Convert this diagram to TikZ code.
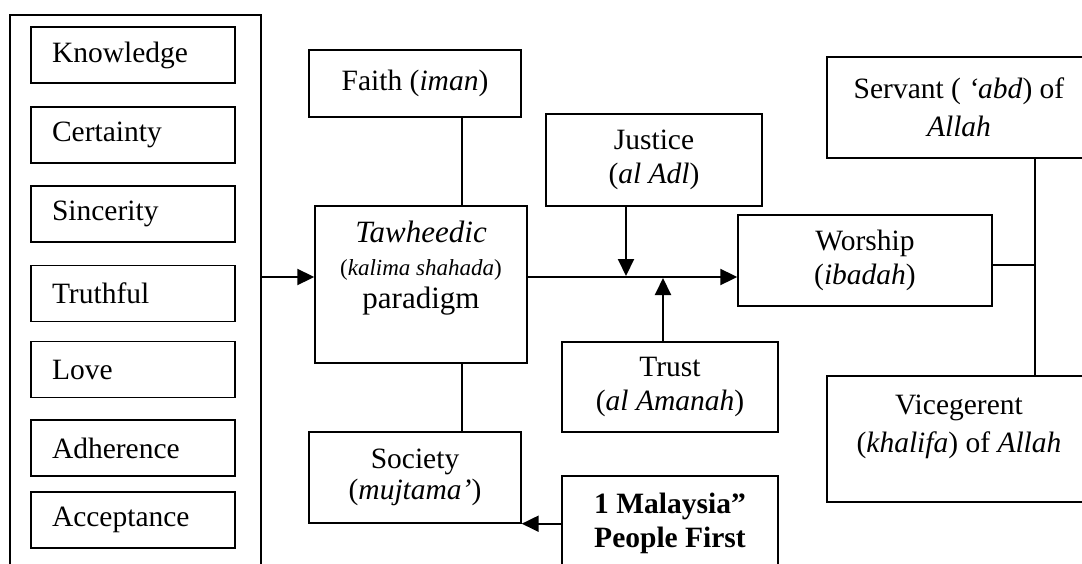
\documentclass[tikz,border=0pt]{standalone}
\usepackage{fontspec}
\setmainfont{Liberation Serif}
\usetikzlibrary{arrows.meta}
\tikzset{
  box/.style={draw, line width=1.4pt, inner sep=0pt, align=center,
    font=\fontsize{29.5}{34}\selectfont},
  itembox/.style={draw, line width=1.4pt, minimum width=204pt, minimum height=56pt,
    text width=162pt, inner xsep=21pt, inner ysep=0pt, align=left,
    font=\fontsize{29.5}{34}\selectfont},
  plain/.style={line width=1.4pt},
  arr/.style={line width=2pt, -{Triangle[length=17pt,width=16pt]}}
}
\begin{document}
\begin{tikzpicture}[x=1pt,y=-1pt]
\useasboundingbox (0,0) rectangle (1082,563);
\clip (0,0) rectangle (1082,563);
\fill[white] (0,0) rectangle (1082,563);

% left column
\node[draw, line width=1.4pt, minimum width=251pt, minimum height=600pt, inner sep=0pt] (outer) at (135.5,315) {};
\node[itembox] (know) at (133,55) {Knowledge};
\node[itembox] (cert) at (133,135) {Certainty};
\node[itembox] (sinc) at (133,214) {Sincerity};
\node[itembox] (truth) at (133,293.5) {Truthful};
\node[itembox] (love) at (133,369.5) {Love};
\node[itembox] (adh) at (133,448) {Adherence};
\node[itembox] (acc) at (133,520) {Acceptance};

% middle column
\node[box, minimum width=212pt, minimum height=67pt] (faith) at (415,83.5) {Faith (\textit{iman})};
\node[box, minimum width=212pt, minimum height=157pt] (tawh) at (421,284.5)
  {\begin{minipage}[c][157pt][t]{212pt}\centering\vspace*{15pt}%
   \fontsize{31}{33}\selectfont\textit{Tawheedic}\\
   {\fontsize{23}{33}\selectfont(\textit{kalima shahada})}\\
   paradigm\end{minipage}};
\node[box, minimum width=212pt, minimum height=91pt, font=\fontsize{29.5}{31}\selectfont] (soc) at (415,477.5) {Society\\(\textit{mujtama’})};

\node[box, minimum width=216pt, minimum height=92pt] (just) at (654,160) {Justice\\(\textit{al Adl})};
\node[box, minimum width=216pt, minimum height=90pt] (trust) at (670,387) {Trust\\(\textit{al Amanah})};
\node[box, minimum width=216pt, minimum height=128pt] (mal) at (670,540)
  {\begin{minipage}[c][128pt][t]{216pt}\centering\vspace*{17pt}%
   \bfseries 1 Malaysia”\\People First\end{minipage}};

% right column
\node[box, minimum width=254pt, minimum height=91pt] (wor) at (865,260.5) {Worship\\(\textit{ibadah})};
\node[box, minimum width=264pt, minimum height=101pt, font=\fontsize{29.5}{38}\selectfont] (serv) at (959,107.5) {Servant ( \textit{‘abd}) of\\\textit{Allah}};
\node[box, minimum width=264pt, minimum height=126pt] (vice) at (959,439)
  {\begin{minipage}[c][126pt][t]{264pt}\centering\vspace*{19pt}%
   \fontsize{29.5}{38}\selectfont Vicegerent\\(\textit{khalifa}) of \textit{Allah}\end{minipage}};

% helper coordinates
\coordinate (mid) at (0,277);
\coordinate (fx) at (462,0);
\coordinate (jx) at (626,0);
\coordinate (tx) at (663,0);
\coordinate (sx) at (1035,0);
\coordinate (wy) at (0,265);

% connectors
\draw[plain] (fx |- faith.south) -- (fx |- tawh.north);
\draw[plain] (fx |- tawh.south) -- (fx |- soc.north);
\draw[arr] (outer.east |- mid) -- (tawh.west |- mid);
\draw[arr] (tawh.east |- mid) -- (wor.west |- mid);
\draw[arr] (jx |- just.south) -- ([yshift=1pt]jx |- mid);
\draw[arr] (tx |- trust.north) -- ([yshift=-1pt]tx |- mid);
\draw[arr] (mal.west |- soc.south) -- (soc.south east);
\draw[plain] (sx |- serv.south) -- (sx |- vice.north);
\draw[plain] (wor.east |- wy) -- (sx |- wy);
\end{tikzpicture}
\end{document}
